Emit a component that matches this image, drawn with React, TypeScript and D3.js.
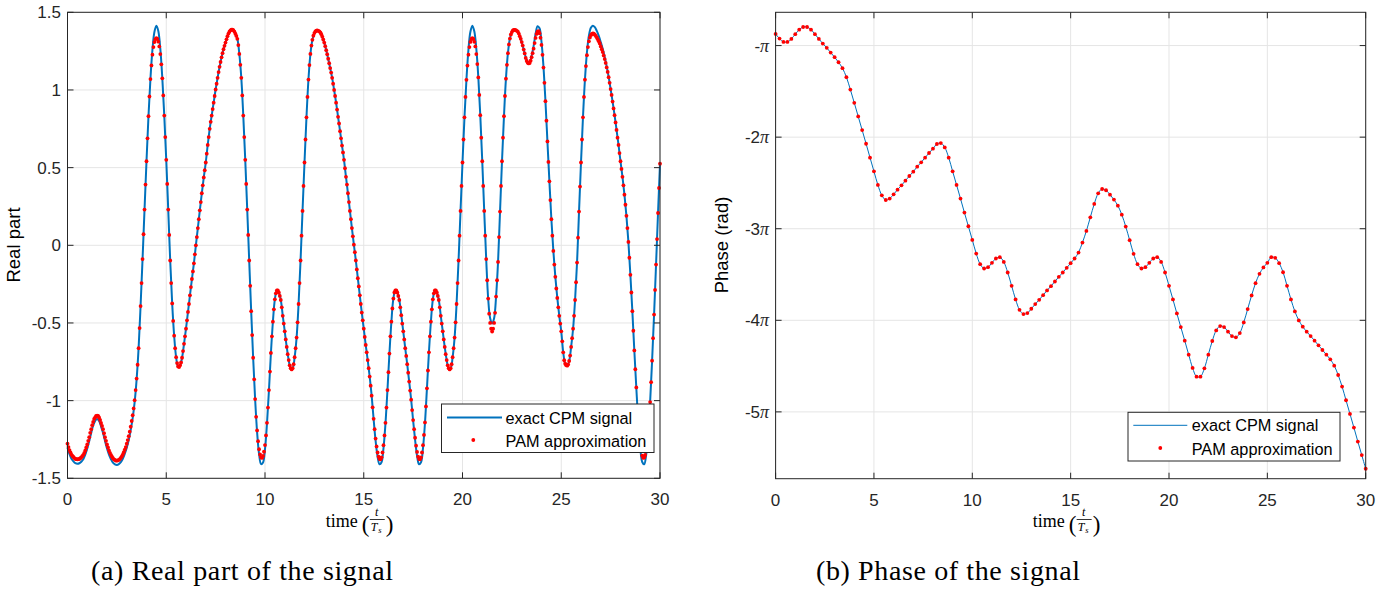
import React from "react";
import * as d3 from "d3";

// ---------- data ----------
const xTicks = [0, 5, 10, 15, 20, 25, 30];
const realTicks = [-1.5, -1, -0.5, 0, 0.5, 1, 1.5];
const phaseTicksPi = [-5, -4, -3, -2, -1];
const legendLabels = ["exact CPM signal", "PAM approximation"];
const captions = ["(a) Real part of the signal", "(b) Phase of the signal"];

const realExactStep = 0.1;
const realExact = [
  -1.303,-1.345,-1.374,-1.391,-1.403,-1.406,-1.403,-1.393,-1.377,-1.348,
  -1.308,-1.260,-1.208,-1.160,-1.131,-1.118,-1.131,-1.167,-1.208,-1.260,
  -1.308,-1.348,-1.377,-1.399,-1.410,-1.414,-1.409,-1.396,-1.374,-1.342,
  -1.303,-1.254,-1.189,-1.112,-1.009,-0.863,-0.662,-0.391,-0.089,0.230,
  0.541,0.831,1.073,1.258,1.373,1.414,1.378,1.264,1.078,0.835,
  0.550,0.230,-0.098,-0.374,-0.582,-0.720,-0.780,-0.773,-0.724,-0.634,
  -0.537,-0.429,-0.322,-0.217,-0.116,0.000,0.111,0.225,0.335,0.437,
  0.533,0.646,0.750,0.835,0.918,1.003,1.078,1.149,1.210,1.262,
  1.305,1.346,1.375,1.388,1.385,1.362,1.329,1.232,1.078,0.835,
  0.550,0.230,-0.098,-0.424,-0.724,-0.990,-1.203,-1.344,-1.409,-1.398,
  -1.312,-1.149,-0.932,-0.693,-0.492,-0.348,-0.291,-0.304,-0.352,-0.454,
  -0.554,-0.654,-0.739,-0.791,-0.791,-0.720,-0.594,-0.378,-0.098,0.221,
  0.533,0.824,1.067,1.232,1.323,1.366,1.382,1.381,1.371,1.344,
  1.305,1.256,1.201,1.141,1.078,1.000,0.918,0.827,0.735,0.642,
  0.550,0.441,0.335,0.221,0.111,0.004,-0.098,-0.212,-0.322,-0.433,
  -0.537,-0.642,-0.739,-0.845,-0.968,-1.120,-1.258,-1.360,-1.410,-1.397,
  -1.306,-1.147,-0.932,-0.697,-0.492,-0.343,-0.291,-0.304,-0.352,-0.450,
  -0.554,-0.662,-0.765,-0.877,-0.994,-1.128,-1.252,-1.356,-1.410,-1.397,
  -1.306,-1.144,-0.921,-0.689,-0.492,-0.348,-0.291,-0.304,-0.352,-0.454,
  -0.554,-0.654,-0.739,-0.791,-0.791,-0.720,-0.594,-0.378,-0.098,0.221,
  0.533,0.824,1.067,1.258,1.375,1.414,1.376,1.264,1.084,0.838,
  0.541,0.221,-0.089,-0.343,-0.470,-0.503,-0.470,-0.330,-0.107,0.217,
  0.541,0.831,1.073,1.237,1.331,1.373,1.387,1.385,1.376,1.346,
  1.308,1.260,1.212,1.182,1.180,1.221,1.282,1.362,1.410,1.397,
  1.310,1.149,0.928,0.669,0.412,0.168,-0.036,-0.203,-0.339,-0.454,
  -0.554,-0.689,-0.762,-0.775,-0.745,-0.654,-0.537,-0.352,-0.111,0.217,
  0.533,0.824,1.067,1.241,1.349,1.400,1.414,1.404,1.380,1.348,
  1.308,1.264,1.212,1.152,1.084,1.006,0.925,0.838,0.743,0.646,
  0.541,0.441,0.326,0.190,0.022,-0.190,-0.424,-0.677,-0.915,-1.139,
  -1.303,-1.395,-1.410,-1.349,-1.215,-1.009,-0.743,-0.446,-0.124,0.208,
  0.525,
];

const realPamStep = 0.05;
const realPam = [
  -1.277,-1.299,-1.318,-1.333,-1.347,-1.356,-1.363,-1.370,-1.375,-1.377,
  -1.378,-1.377,-1.375,-1.371,-1.365,-1.357,-1.349,-1.337,-1.321,-1.301,
  -1.282,-1.259,-1.235,-1.207,-1.184,-1.158,-1.137,-1.118,-1.108,-1.098,
  -1.096,-1.098,-1.108,-1.124,-1.144,-1.163,-1.184,-1.210,-1.235,-1.259,
  -1.282,-1.301,-1.321,-1.336,-1.349,-1.361,-1.371,-1.378,-1.382,-1.386,
  -1.386,-1.385,-1.381,-1.376,-1.368,-1.359,-1.347,-1.332,-1.315,-1.299,
  -1.277,-1.254,-1.229,-1.200,-1.168,-1.131,-1.094,-1.050,-0.997,-0.932,
  -0.858,-0.769,-0.662,-0.533,-0.391,-0.243,-0.089,0.071,0.230,0.391,
  0.541,0.689,0.831,0.958,1.070,1.158,1.227,1.276,1.308,1.327,
  1.334,1.329,1.311,1.280,1.231,1.165,1.075,0.965,0.835,0.697,
  0.550,0.395,0.230,0.067,-0.098,-0.243,-0.374,-0.487,-0.582,-0.662,
  -0.720,-0.758,-0.780,-0.784,-0.773,-0.754,-0.724,-0.681,-0.634,-0.586,
  -0.537,-0.483,-0.429,-0.378,-0.322,-0.269,-0.217,-0.168,-0.116,-0.058,
  0.000,0.053,0.111,0.168,0.225,0.278,0.335,0.386,0.437,0.483,
  0.533,0.590,0.646,0.697,0.750,0.795,0.835,0.877,0.918,0.961,
  1.003,1.040,1.078,1.115,1.149,1.180,1.210,1.237,1.262,1.284,
  1.305,1.326,1.346,1.363,1.375,1.384,1.388,1.389,1.385,1.376,
  1.362,1.348,1.329,1.289,1.232,1.162,1.078,0.965,0.835,0.697,
  0.550,0.395,0.230,0.067,-0.098,-0.261,-0.424,-0.578,-0.724,-0.863,
  -0.990,-1.104,-1.192,-1.261,-1.313,-1.346,-1.365,-1.369,-1.356,-1.329,
  -1.286,-1.224,-1.143,-1.045,-0.932,-0.813,-0.693,-0.586,-0.492,-0.412,
  -0.348,-0.309,-0.291,-0.291,-0.304,-0.326,-0.352,-0.399,-0.454,-0.504,
  -0.554,-0.606,-0.654,-0.701,-0.739,-0.773,-0.791,-0.799,-0.791,-0.765,
  -0.720,-0.662,-0.594,-0.496,-0.378,-0.243,-0.098,0.062,0.221,0.382,
  0.533,0.681,0.824,0.955,1.067,1.160,1.232,1.286,1.323,1.349,
  1.366,1.377,1.382,1.383,1.381,1.377,1.371,1.359,1.344,1.325,
  1.305,1.282,1.256,1.230,1.201,1.172,1.141,1.112,1.078,1.040,
  1.000,0.961,0.918,0.874,0.827,0.784,0.735,0.689,0.642,0.598,
  0.550,0.496,0.441,0.391,0.335,0.278,0.221,0.168,0.111,0.058,
  0.004,-0.044,-0.098,-0.155,-0.212,-0.265,-0.322,-0.378,-0.433,-0.483,
  -0.537,-0.590,-0.642,-0.689,-0.739,-0.791,-0.845,-0.904,-0.968,-1.043,
  -1.117,-1.184,-1.244,-1.295,-1.334,-1.361,-1.376,-1.378,-1.365,-1.334,
  -1.287,-1.224,-1.143,-1.045,-0.932,-0.817,-0.697,-0.586,-0.492,-0.407,
  -0.343,-0.304,-0.291,-0.291,-0.304,-0.326,-0.352,-0.399,-0.450,-0.504,
  -0.554,-0.606,-0.662,-0.712,-0.765,-0.820,-0.877,-0.935,-0.994,-1.061,
  -1.125,-1.184,-1.239,-1.290,-1.330,-1.360,-1.376,-1.378,-1.365,-1.334,
  -1.287,-1.221,-1.140,-1.037,-0.921,-0.806,-0.689,-0.586,-0.492,-0.412,
  -0.348,-0.309,-0.291,-0.291,-0.304,-0.326,-0.352,-0.399,-0.454,-0.504,
  -0.554,-0.606,-0.654,-0.701,-0.739,-0.773,-0.791,-0.799,-0.791,-0.765,
  -0.720,-0.662,-0.594,-0.496,-0.378,-0.243,-0.098,0.062,0.221,0.382,
  0.533,0.681,0.824,0.955,1.065,1.157,1.227,1.276,1.309,1.328,
  1.334,1.328,1.310,1.280,1.231,1.167,1.081,0.968,0.838,0.693,
  0.541,0.382,0.221,0.062,-0.089,-0.225,-0.343,-0.440,-0.500,-0.537,
  -0.555,-0.537,-0.500,-0.435,-0.330,-0.225,-0.107,0.053,0.217,0.382,
  0.541,0.693,0.831,0.961,1.073,1.162,1.237,1.293,1.331,1.357,
  1.373,1.383,1.387,1.387,1.385,1.381,1.376,1.363,1.346,1.329,
  1.308,1.286,1.260,1.235,1.206,1.187,1.175,1.171,1.173,1.188,
  1.211,1.237,1.266,1.302,1.335,1.361,1.376,1.378,1.365,1.336,
  1.290,1.226,1.144,1.046,0.928,0.802,0.669,0.537,0.412,0.291,
  0.168,0.062,-0.036,-0.124,-0.203,-0.278,-0.339,-0.399,-0.454,-0.504,
  -0.554,-0.618,-0.689,-0.740,-0.762,-0.772,-0.775,-0.768,-0.745,-0.710,
  -0.654,-0.598,-0.537,-0.454,-0.352,-0.238,-0.111,0.049,0.217,0.378,
  0.533,0.681,0.824,0.955,1.066,1.154,1.224,1.276,1.313,1.337,
  1.353,1.361,1.364,1.362,1.356,1.348,1.338,1.326,1.313,1.299,
  1.280,1.262,1.244,1.222,1.199,1.174,1.145,1.116,1.082,1.046,
  1.006,0.968,0.925,0.881,0.838,0.791,0.743,0.693,0.646,0.594,
  0.541,0.492,0.441,0.386,0.326,0.261,0.190,0.111,0.022,-0.080,
  -0.190,-0.304,-0.424,-0.550,-0.677,-0.798,-0.915,-1.034,-1.134,-1.216,
  -1.279,-1.324,-1.354,-1.368,-1.366,-1.350,-1.317,-1.269,-1.203,-1.116,
  -1.009,-0.881,-0.743,-0.598,-0.446,-0.287,-0.124,0.040,0.208,0.369,
  0.525,
];

// phase in units of pi, sampled every 0.2 symbol
const phaseStep = 0.2;
const phasePi = [
  -0.873,-0.924,-0.960,-0.960,-0.927,-0.876,-0.826,-0.797,-0.797,-0.826,
  -0.876,-0.927,-0.978,-1.025,-1.076,-1.127,-1.182,-1.247,-1.345,-1.480,
  -1.625,-1.774,-1.923,-2.072,-2.224,-2.373,-2.522,-2.635,-2.686,-2.671,
  -2.624,-2.573,-2.526,-2.475,-2.424,-2.377,-2.322,-2.275,-2.224,-2.173,
  -2.126,-2.075,-2.065,-2.112,-2.224,-2.373,-2.522,-2.671,-2.824,-2.973,
  -3.122,-3.271,-3.387,-3.434,-3.420,-3.372,-3.325,-3.311,-3.362,-3.478,
  -3.623,-3.772,-3.885,-3.932,-3.921,-3.874,-3.823,-3.776,-3.725,-3.674,
  -3.627,-3.576,-3.525,-3.478,-3.427,-3.376,-3.325,-3.260,-3.151,-3.024,
  -2.875,-2.729,-2.613,-2.566,-2.580,-2.628,-2.682,-2.748,-2.846,-2.976,
  -3.125,-3.274,-3.387,-3.434,-3.420,-3.372,-3.325,-3.311,-3.362,-3.478,
  -3.623,-3.772,-3.925,-4.074,-4.222,-4.375,-4.520,-4.615,-4.615,-4.524,
  -4.375,-4.226,-4.110,-4.063,-4.074,-4.124,-4.172,-4.186,-4.139,-4.023,
  -3.877,-3.728,-3.594,-3.492,-3.423,-3.372,-3.311,-3.318,-3.376,-3.475,
  -3.623,-3.772,-3.903,-4.001,-4.070,-4.124,-4.172,-4.222,-4.273,-4.324,
  -4.375,-4.426,-4.495,-4.597,-4.724,-4.873,-5.022,-5.171,-5.324,-5.472,
  -5.621,
];

// ---------- styling ----------
const BLUE = "#0072BD";
const RED = "#ff0000";
const AX = "#262626";
const GRID = "#e5e5e5";
const SANS = "'Liberation Sans', Arial, Helvetica, sans-serif";
const SERIF = "'Liberation Serif', 'Times New Roman', serif";
const TICK_FS = 17;
const LEG_FS = 16.3;

function Frame({ x0, x1, y0, y1, xScale, yScale, yTickVals }) {
  return (
    <g>
      {xTicks.map((t) => (
        <line key={"gx" + t} x1={xScale(t)} x2={xScale(t)} y1={y0} y2={y1} stroke={GRID} strokeWidth={1} />
      ))}
      {yTickVals.map((v) => (
        <line key={"gy" + v} x1={x0} x2={x1} y1={yScale(v)} y2={yScale(v)} stroke={GRID} strokeWidth={1} />
      ))}
    </g>
  );
}

function Axes({ x0, x1, y0, y1, xScale, yScale, yTickVals, yTickLabel }) {
  const tl = 6;
  return (
    <g>
      <rect x={x0} y={y0} width={x1 - x0} height={y1 - y0} fill="none" stroke={AX} strokeWidth={1} />
      {xTicks.map((t) => (
        <g key={"tx" + t}>
          <line x1={xScale(t)} x2={xScale(t)} y1={y1} y2={y1 - tl} stroke={AX} />
          <line x1={xScale(t)} x2={xScale(t)} y1={y0} y2={y0 + tl} stroke={AX} />
          <text x={xScale(t)} y={y1 + 27} textAnchor="middle" fontFamily={SANS} fontSize={TICK_FS} fill={AX}>
            {String(t)}
          </text>
        </g>
      ))}
      {yTickVals.map((v) => (
        <g key={"ty" + v}>
          <line x1={x0} x2={x0 + tl} y1={yScale(v)} y2={yScale(v)} stroke={AX} />
          <line x1={x1} x2={x1 - tl} y1={yScale(v)} y2={yScale(v)} stroke={AX} />
          {yTickLabel(v, x0 - 6.5, yScale(v) + 6)}
        </g>
      ))}
    </g>
  );
}

function XLabel({ cx, y }) {
  const x0 = cx - 38;
  return (
    <g fill="#000">
      <text x={x0} y={y} fontFamily={SERIF} fontSize={18}>time</text>
      <text x={x0 + 36} y={y + 5} fontFamily={SERIF} fontSize={23}>(</text>
      <text x={x0 + 51} y={y - 11} textAnchor="middle" fontFamily={SERIF} fontStyle="italic" fontSize={12}>t</text>
      <line x1={x0 + 44} x2={x0 + 59} y1={y - 7.5} y2={y - 7.5} stroke="#000" strokeWidth={0.8} />
      <text x={x0 + 45} y={y + 4} fontFamily={SERIF} fontStyle="italic" fontSize={12}>T</text>
      <text x={x0 + 52.5} y={y + 6} fontFamily={SERIF} fontStyle="italic" fontSize={8.5}>s</text>
      <text x={x0 + 60} y={y + 5} fontFamily={SERIF} fontSize={23}>)</text>
    </g>
  );
}

function Legend({ x, y, w, h, lineW, lineX1, lineX2, lineY, dotX, dotY, textX, textY1, textY2 }) {
  return (
    <g>
      <rect x={x} y={y} width={w} height={h} fill="#fff" stroke={AX} strokeWidth={1} />
      <line x1={lineX1} x2={lineX2} y1={lineY} y2={lineY} stroke={BLUE} strokeWidth={lineW} />
      <text x={textX} y={textY1} fontFamily={SANS} fontSize={LEG_FS} fill="#000">{legendLabels[0]}</text>
      <circle cx={dotX} cy={dotY} r={1.9} fill={RED} />
      <text x={textX} y={textY2} fontFamily={SANS} fontSize={LEG_FS} fill="#000">{legendLabels[1]}</text>
    </g>
  );
}

export default function App() {
  const L = { x0: 67.5, x1: 660, y0: 12.3, y1: 478.3 };
  const R = { x0: 775.6, x1: 1365.7, y0: 12.3, y1: 478.7 };

  const xL = d3.scaleLinear().domain([0, 30]).range([L.x0, L.x1]);
  const yL = d3.scaleLinear().domain([-1.5, 1.5]).range([L.y1, L.y0]);
  const xR = d3.scaleLinear().domain([0, 30]).range([R.x0, R.x1]);
  const yR = d3.scaleLinear().domain([-18, -2]).range([R.y1, R.y0]);

  const lineL = d3
    .line<number>()
    .x((_, i) => xL(i * realExactStep))
    .y((d) => yL(d))
    .curve(d3.curveCatmullRom.alpha(0.5));
  const lineR = d3
    .line<number>()
    .x((_, i) => xR(i * phaseStep))
    .y((d) => yR(d * Math.PI))
    .curve(d3.curveCatmullRom.alpha(0.5));

  const realTickLabel = (v, x, y) => (
    <text x={x} y={y} textAnchor="end" fontFamily={SANS} fontSize={TICK_FS} fill={AX}>
      {String(v)}
    </text>
  );
  const phaseTickVals = phaseTicksPi.map((k) => k * Math.PI);
  const phaseTickLabel = (v, x, y) => {
    const k = Math.round(v / Math.PI);
    return (
      <text x={x} y={y} textAnchor="end" fontFamily={SANS} fontSize={TICK_FS} fill={AX}>
        {"-" + (k === -1 ? "" : String(-k))}
        <tspan fontFamily={SERIF} fontStyle="italic" fontSize={TICK_FS + 1}>π</tspan>
      </text>
    );
  };

  return (
    <svg
      width={1392}
      height={590}
      style={{ position: "absolute", left: 0, top: 0, background: "#fff" }}
    >
      <rect x={0} y={0} width={1392} height={590} fill="#fff" />
      {/* Left panel */}
      <Frame {...L} xScale={xL} yScale={yL} yTickVals={realTicks} />
      <path d={lineL(realExact) || ""} fill="none" stroke={BLUE} strokeWidth={2} />
      {realPam.map((v, i) => (
        <circle key={"pl" + i} cx={xL(i * realPamStep)} cy={yL(v)} r={1.9} fill={RED} />
      ))}
      <Axes {...L} xScale={xL} yScale={yL} yTickVals={realTicks} yTickLabel={realTickLabel} />
      <Legend x={441.5} y={404} w={212.5} h={48.5} lineW={2} lineX1={447} lineX2={502} lineY={417.5}
        dotX={473.3} dotY={440} textX={505.5} textY1={423.5} textY2={446.5} />
      <text transform={`translate(20,245) rotate(-90)`} textAnchor="middle" fontFamily={SANS} fontSize={18.5} fill="#000">
        Real part
      </text>
      <XLabel cx={(L.x0 + L.x1) / 2} y={527} />

      {/* Right panel */}
      <Frame {...R} xScale={xR} yScale={yR} yTickVals={phaseTickVals} />
      <path d={lineR(phasePi) || ""} fill="none" stroke={BLUE} strokeWidth={1} />
      {phasePi.map((v, i) => (
        <circle key={"pr" + i} cx={xR(i * phaseStep)} cy={yR(v * Math.PI)} r={1.9} fill={RED} />
      ))}
      <Axes {...R} xScale={xR} yScale={yR} yTickVals={phaseTickVals} yTickLabel={phaseTickLabel} />
      <Legend x={1128} y={412.3} w={212} h={48.7} lineW={1} lineX1={1133.3} lineX2={1187.3} lineY={425.3}
        dotX={1160.3} dotY={448} textX={1191.7} textY1={431.3} textY2={454.5} />
      <text transform={`translate(728,245) rotate(-90)`} textAnchor="middle" fontFamily={SANS} fontSize={18.5} fill="#000">
        Phase (rad)
      </text>
      <XLabel cx={(R.x0 + R.x1) / 2} y={527} />

      {/* Captions */}
      <text x={91} y={580} fontFamily={SERIF} fontSize={28} textLength={302} lengthAdjust="spacing" fill="#000">
        {captions[0]}
      </text>
      <text x={816} y={580} fontFamily={SERIF} fontSize={28} textLength={264} lengthAdjust="spacing" fill="#000">
        {captions[1]}
      </text>
    </svg>
  );
}
